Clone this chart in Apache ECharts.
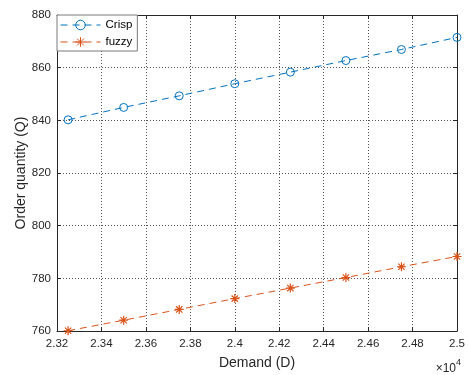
<!DOCTYPE html>
<html>
<head>
<meta charset="utf-8">
<script src="https://cdn.jsdelivr.net/npm/echarts@6/dist/echarts.min.js"></script>
<style>
  html, body { margin: 0; padding: 0; background: #fff; }
  #chart { width: 468px; height: 375px; }
</style>
</head>
<body>
<div id="chart"></div>
<script>
// demand values (D)
const demand = [23250, 23500, 23750, 24000, 24250, 24500, 24750, 25000];
// order quantity (Q)
const crispQ = [840.2, 844.9, 849.3, 853.9, 858.3, 862.7, 866.9, 871.5];
const fuzzyQ = [760.1, 764.1, 768.2, 772.3, 776.3, 780.3, 784.4, 788.3];

const FONT = "Liberation Sans, Arial, sans-serif";
const TXT = "#262626";
const blue = "#0072BD";
const orange = "#D95319";
// asterisk marker: plus + cross, stroked only
const asterisk = "path://M5,0L5,10M0,5L10,5M1.5,1.5L8.5,8.5M1.5,8.5L8.5,1.5";

const chart = echarts.init(document.getElementById("chart"), null, { renderer: "canvas" });

const gridLine = { show: true, lineStyle: { type: [1, 2], color: "#555", width: 1 } };
const tick = { inside: true, length: 4, lineStyle: { color: TXT } };
const frame = { show: true, onZero: false, lineStyle: { color: TXT } };

const option = {
  animation: false,
  backgroundColor: "#fff",
  grid: { left: 57, right: 6, top: 15, bottom: 41 },
  legend: {
    left: 57,
    top: 15,
    orient: "vertical",
    backgroundColor: "#fff",
    borderColor: "#7a7a7a",
    borderWidth: 1,
    borderRadius: 0,
    padding: [4, 5, 3, 3],
    itemGap: 5,
    itemWidth: 40,
    itemHeight: 12,
    lineStyle: { width: 1 },
    itemStyle: { borderWidth: 1 },
    textStyle: { fontFamily: FONT, fontSize: 11.5, color: "#000" },
    data: ["Crisp", "fuzzy"]
  },
  xAxis: [
    {
      type: "value",
      min: 23200,
      max: 25000,
      interval: 200,
      name: "Demand (D)",
      nameLocation: "middle",
      nameGap: 25,
      nameMoveOverlap: false,
      nameTextStyle: { fontFamily: FONT, fontSize: 14, color: TXT },
      axisLine: frame,
      axisTick: tick,
      axisLabel: {
        fontFamily: FONT, fontSize: 11.5, color: TXT, margin: 7,
        formatter: v => String(parseFloat((v / 1e4).toFixed(2)))
      },
      splitLine: gridLine
    },
    {
      type: "value",
      position: "top",
      min: 23200,
      max: 25000,
      interval: 200,
      axisLine: frame,
      axisTick: tick,
      axisLabel: { show: false },
      splitLine: { show: false }
    }
  ],
  yAxis: [
    {
      type: "value",
      min: 760,
      max: 880,
      interval: 20,
      name: "Order quantity (Q)",
      nameLocation: "middle",
      nameGap: 29,
      nameMoveOverlap: false,
      nameTextStyle: { fontFamily: FONT, fontSize: 14, color: TXT },
      axisLine: frame,
      axisTick: tick,
      axisLabel: { fontFamily: FONT, fontSize: 11.5, color: TXT, margin: 6 },
      splitLine: gridLine
    },
    {
      type: "value",
      position: "right",
      min: 760,
      max: 880,
      interval: 20,
      axisLine: frame,
      axisTick: tick,
      axisLabel: { show: false },
      splitLine: { show: false }
    }
  ],
  series: [
    {
      name: "Crisp",
      type: "line",
      data: demand.map((d, i) => [d, crispQ[i]]),
      symbol: "circle",
      symbolSize: 8,
      showAllSymbol: true,
      itemStyle: { color: "rgba(0,0,0,0)", borderColor: blue, borderWidth: 1 },
      lineStyle: { color: blue, width: 1, type: [7, 5] },
      z: 3
    },
    {
      name: "fuzzy",
      type: "line",
      data: demand.map((d, i) => [d, fuzzyQ[i]]),
      symbol: asterisk,
      symbolSize: 9,
      showAllSymbol: true,
      itemStyle: { color: "rgba(0,0,0,0)", borderColor: orange, borderWidth: 1.2 },
      lineStyle: { color: orange, width: 1, type: [7, 5] },
      z: 3
    }
  ],
  graphic: [
    {
      type: "text",
      right: 7,
      bottom: 0,
      style: {
        text: "{a|×10}{b|4}",
        rich: {
          a: { fontFamily: FONT, fontSize: 12, fill: TXT, verticalAlign: "bottom" },
          b: { fontFamily: FONT, fontSize: 9, fill: TXT, verticalAlign: "top", padding: [0, 0, 8, 0] }
        }
      }
    }
  ]
};

chart.setOption(option);
</script>
</body>
</html>
